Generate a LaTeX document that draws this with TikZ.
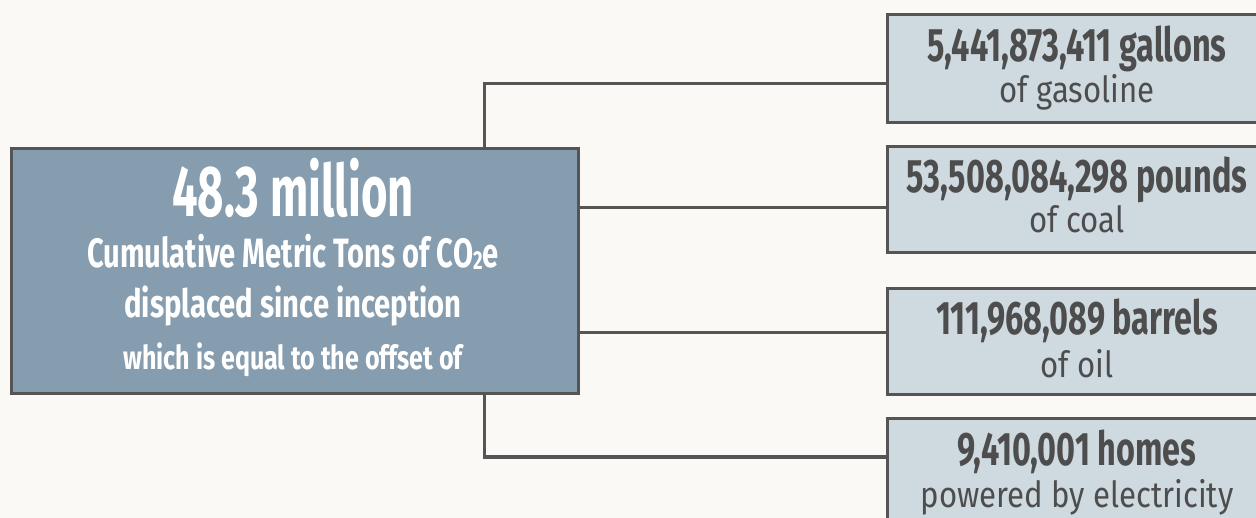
\documentclass[tikz,border=0pt]{standalone}
\usepackage{fontspec}
\setmainfont{Fira Sans}
% condensed cuts of Fira Sans, one per line style
\newfontfamily\headfont[FakeStretch=0.63]{Fira Sans Bold}
\newfontfamily\unitfont[FakeStretch=0.71]{Fira Sans Bold}
\newfontfamily\sincefont[FakeStretch=0.75]{Fira Sans Bold}
\newfontfamily\notefont[FakeStretch=0.76]{Fira Sans Bold}
\newfontfamily\figfont[FakeStretch=0.69]{Fira Sans Bold}
\newfontfamily\whatfont[FakeStretch=0.865]{Fira Sans}
\definecolor{paper}{HTML}{FAF9F5}
\definecolor{slate}{HTML}{869DAF}
\definecolor{mist}{HTML}{CFD9E0}
\definecolor{rule}{HTML}{555555}
\definecolor{ink}{HTML}{4D4D4D}
\tikzset{
  hub/.style={draw=rule, fill=slate, line width=3pt, minimum width=567pt, minimum height=245pt, inner sep=0pt, anchor=north west},
  leaf/.style={draw=rule, fill=mist, line width=3pt, minimum width=384pt, inner sep=0pt, anchor=north west},
  conn/.style={draw=rule, line width=3pt},
  hubtext/.style={text=white, anchor=base, inner sep=0pt},
  leaftext/.style={text=ink, anchor=base, inner sep=0pt},
  figure/.style={leaftext, font=\figfont\fontsize{47}{47}\selectfont},
  what/.style={leaftext, font=\whatfont\fontsize{36}{36}\selectfont},
}
\begin{document}
\begin{tikzpicture}[x=1pt, y=-1pt]
  \fill[paper] (0,0) rectangle (1256,518);
  \useasboundingbox (0,0) rectangle (1256,518);
  \begin{scope}
  \clip (0,0) rectangle (1256,518);

  % central summary box
  \node[hub] (main) at (10,147) {};
  \node[hubtext, font=\headfont\fontsize{72}{72}\selectfont] (m1) at (293,217) {48.3 million};
  \node[hubtext, font=\unitfont\fontsize{41}{41}\selectfont] (m2) at (293,268)
    {Cumulative Metric Tons of CO\raisebox{-2pt}{\fontsize{26}{26}\selectfont 2}e};
  \node[hubtext, font=\sincefont\fontsize{39}{39}\selectfont] (m3) at (293,318) {displaced since inception};
  \node[hubtext, font=\notefont\fontsize{33}{33}\selectfont] (m4) at (293,370) {which is equal to the offset of};

  % equivalence boxes
  \node[leaf, minimum height=108pt] (gas)  at (886,13)  {};
  \node[leaf, minimum height=106pt] (coal) at (886,145) {};
  \node[leaf, minimum height=106pt] (oil)  at (886,287) {};
  \node[leaf, minimum height=120pt] (home) at (886,417) {};

  \node[figure] (g1) at (1077,62)  {5,441,873,411 gallons};
  \node[what]   (g2) at (1077,103) {of gasoline};
  \node[figure] (c1) at (1077,193) {53,508,084,298 pounds};
  \node[what]   (c2) at (1077,233) {of coal};
  \node[figure] (o1) at (1077,335) {111,968,089 barrels};
  \node[what]   (o2) at (1077,378) {of oil};
  \node[figure] (h1) at (1077,465) {9,410,001 homes};
  \node[what]   (h2) at (1077,507) {powered by electricity};

  % connectors
  \coordinate (trunk) at (484,0);
  \coordinate (y1) at (0,84);
  \coordinate (y2) at (0,208);
  \coordinate (y3) at (0,333);
  \coordinate (y4) at (0,457);
  \draw[conn] (main.north -| trunk) |- (gas.west |- y1);
  \draw[conn] (main.east |- y2) -- (coal.west |- y2);
  \draw[conn] (main.east |- y3) -- (oil.west |- y3);
  \draw[conn] (main.south -| trunk) |- (home.west |- y4);
  \end{scope}
\end{tikzpicture}
\end{document}
